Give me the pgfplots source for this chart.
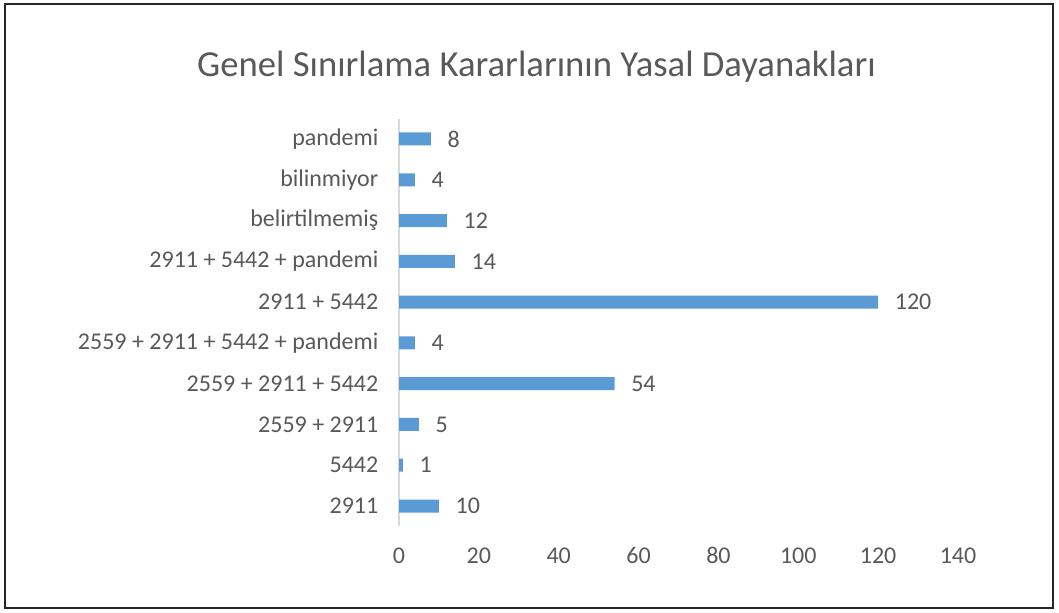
\documentclass[border=0pt]{standalone}
\usepackage{pgfplots}
\pgfplotsset{compat=1.18}
\usepackage{fontspec}
\setmainfont{Carlito}
\definecolor{barblue}{HTML}{5B9BD5}
\definecolor{txtgray}{HTML}{595959}
\definecolor{linegray}{HTML}{D9D9D9}

\begin{document}
\begin{tikzpicture}[x=0.75pt,y=0.75pt]
% picture laid out in pixels of the 1059x612 reference, y measured upward
\path[use as bounding box] (0,0) rectangle (1059,612);
\draw[line width=1pt, black!85] (5,4) rectangle (1053,608);

\node[text=txtgray, font=\fontsize{27.5}{32}\selectfont] at (536.5,545) {Genel Sınırlama Kararlarının Yasal Dayanakları};

\begin{axis}[
    at={(299.25pt,64.2pt)}, anchor=south west,
    scale only axis,
    width=419.25pt, height=305.85pt,
    xbar, bar width=9.75pt, bar shift=0pt,
    xmin=0, xmax=140,
    ymin=-0.5, ymax=9.5,
    xtick={0,20,...,140},
    ytick=data,
    yticklabels={2911, 5442, 2559 + 2911, 2559 + 2911 + 5442,
        2559 + 2911 + 5442 + pandemi, 2911 + 5442, 2911 + 5442 + pandemi,
        belirtilmemiş, bilinmiyor, pandemi},
    axis x line*=bottom,
    x axis line style={draw=none},
    axis y line*=left,
    y axis line style={linegray, line width=0.8pt},
    major tick length=0pt,
    /pgf/number format/assume math mode=true,
    tick label style={text=txtgray, font=\fontsize{18}{21}\selectfont},
    xticklabel style={yshift=-12pt, text height=12pt, text depth=0pt},
    yticklabel style={xshift=-12pt},
    nodes near coords,
    nodes near coords style={text=txtgray, font=\fontsize{18}{21}\selectfont, anchor=west, xshift=9pt},
    clip=false,
]
\addplot[fill=barblue, draw=none] coordinates {
    (10,0) (1,1) (5,2) (54,3) (4,4) (120,5) (14,6) (12,7) (4,8) (8,9)
};
\end{axis}
\end{tikzpicture}
\end{document}
